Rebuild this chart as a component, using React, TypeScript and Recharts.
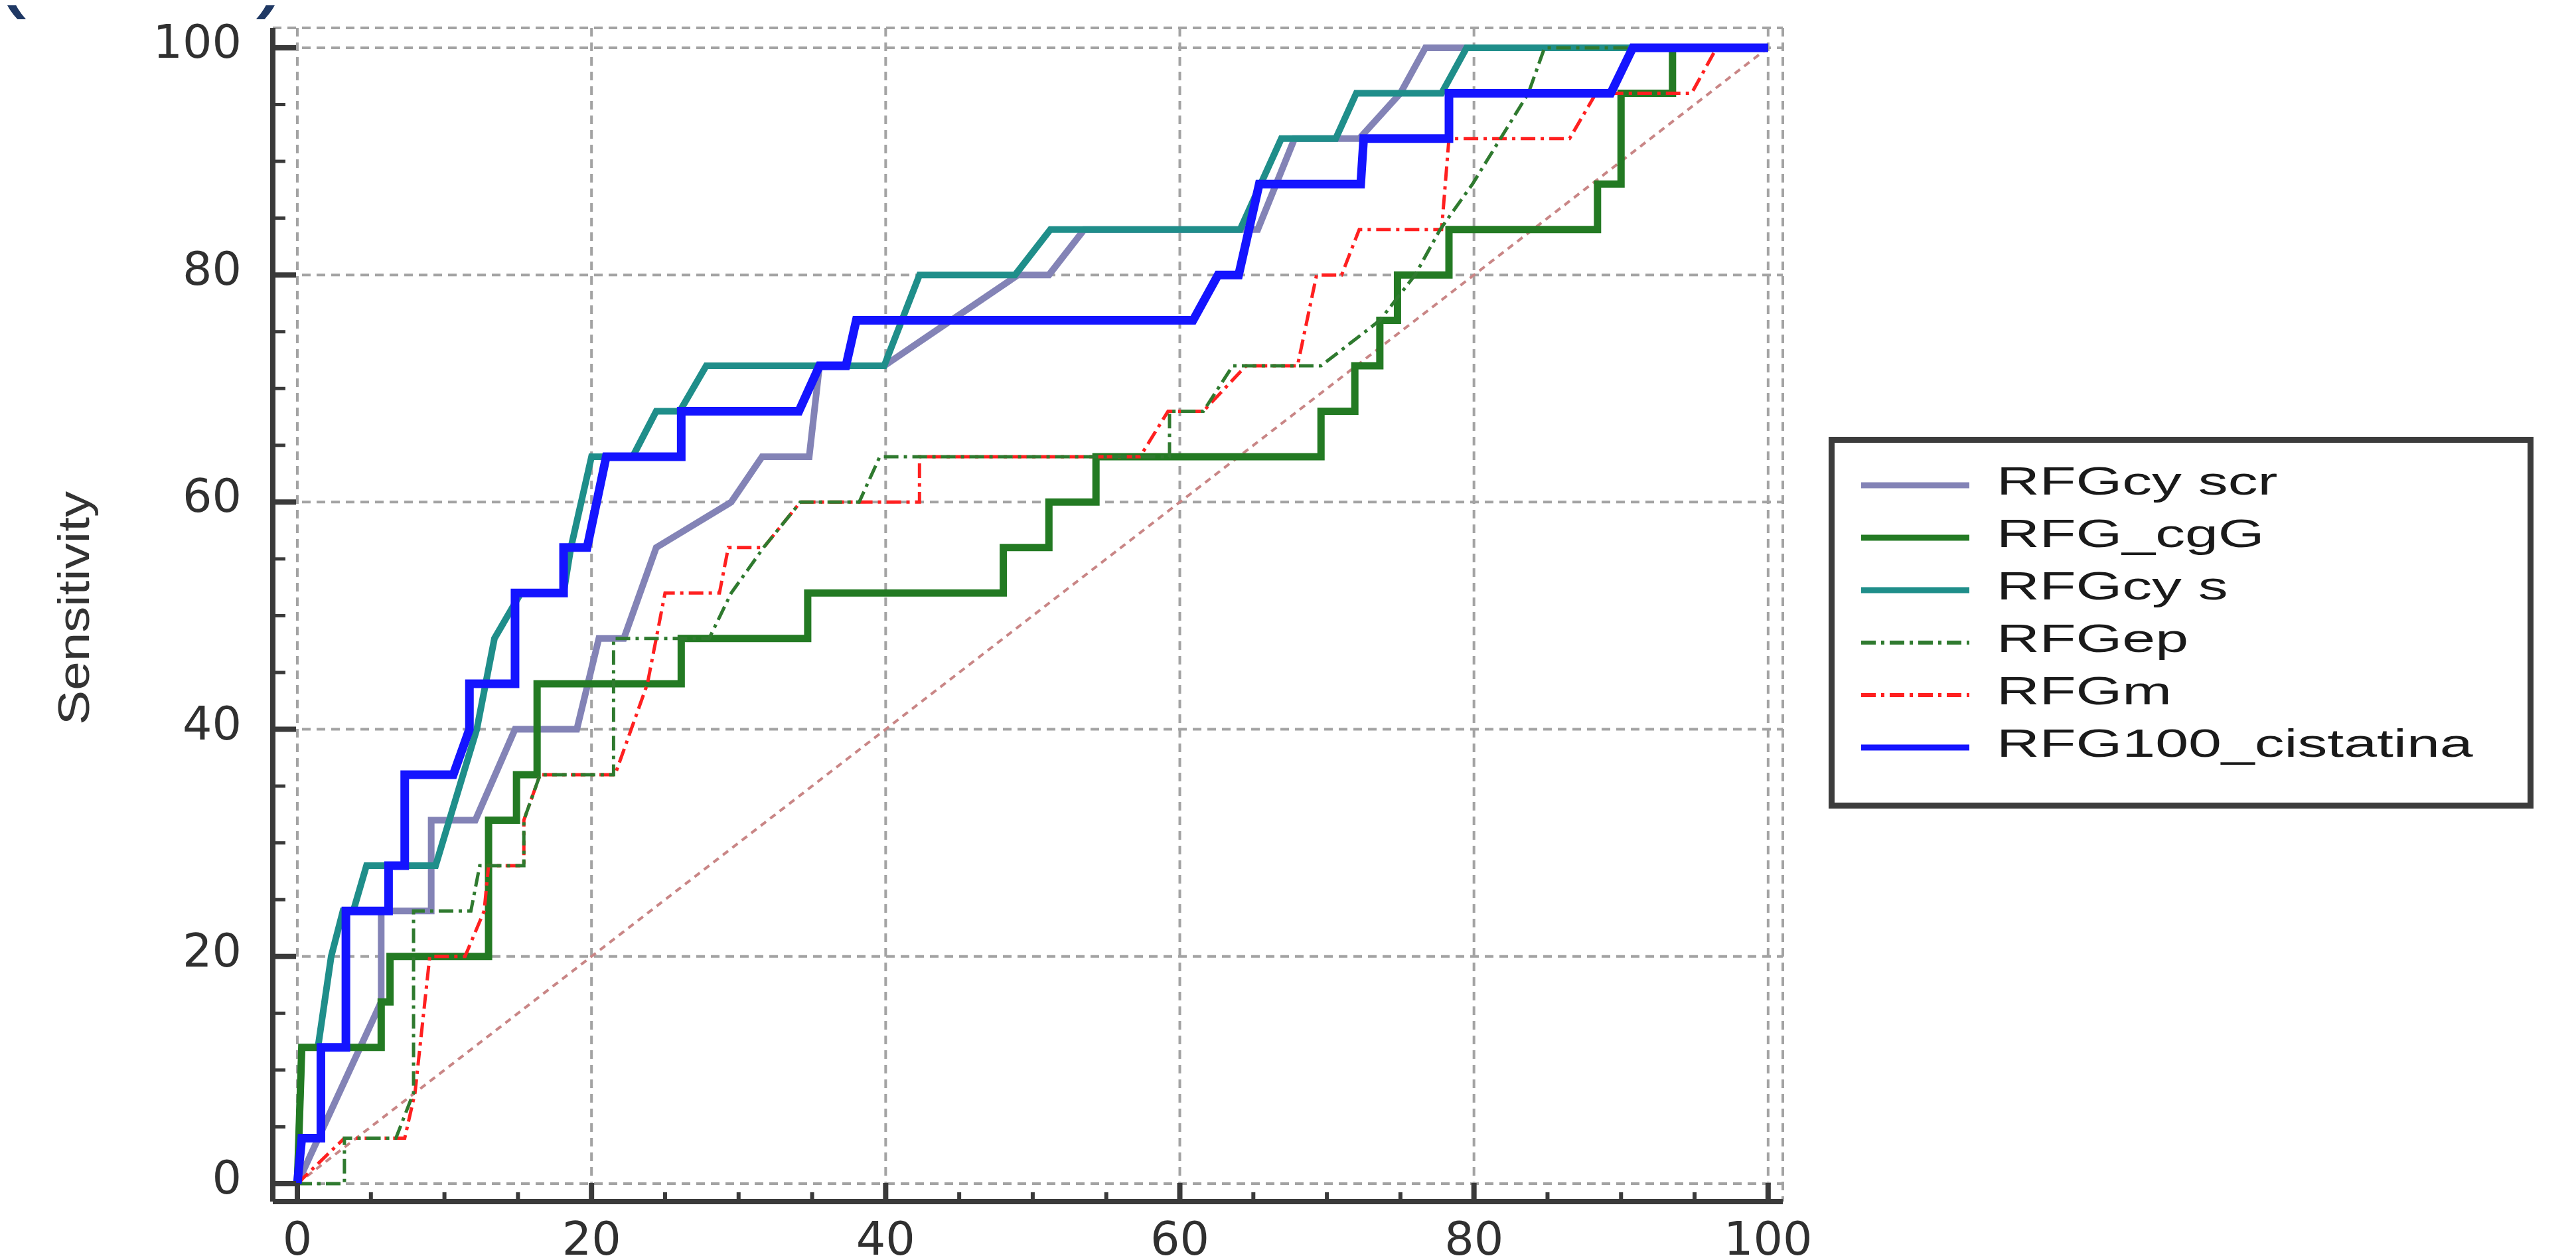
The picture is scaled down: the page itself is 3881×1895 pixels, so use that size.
import { LineChart, Line, XAxis, YAxis, CartesianGrid, Legend } from "recharts";

// axis ticks
const gridTicks = [0, 20, 40, 60, 80, 100];
const axisTicks = [0, 5, 10, 15, 20, 25, 30, 35, 40, 45, 50, 55, 60, 65, 70, 75, 80, 85, 90, 95, 100];

// 100-Specificity (x) and Sensitivity (y) for each ROC curve
const cyscrFpr = [0, 5.7, 5.7, 9.1, 9.1, 12.1, 14.8, 19, 20.5, 22.2, 24.4, 29.5, 31.6, 34.8, 35.5, 39.9, 49, 51.1, 53.5, 65.3, 67.8, 72.2, 75, 76.7, 100];
const cyscrSens = [0, 16, 24, 24, 32, 32, 40, 40, 48, 48, 56, 60, 64, 64, 72, 72, 80, 80, 84, 84, 92, 92, 96, 100, 100];

const cggFpr = [0, 0.3, 5.7, 5.7, 6.3, 6.3, 13, 13, 14.9, 14.9, 16.3, 16.3, 26.1, 26.1, 34.7, 34.7, 48, 48, 51.1, 51.1, 54.3, 54.3, 69.6, 69.6, 71.9, 71.9, 73.6, 73.6, 74.8, 74.8, 78.3, 78.3, 88.4, 88.4, 90, 90, 93.5, 93.5, 100];
const cggSens = [0, 12, 12, 16, 16, 20, 20, 32, 32, 36, 36, 44, 44, 48, 48, 52, 52, 56, 56, 60, 60, 64, 64, 68, 68, 72, 72, 76, 76, 80, 80, 84, 84, 88, 88, 96, 96, 100, 100];

const cysFpr = [0, 0.3, 1.4, 2.3, 3.1, 3.8, 4.7, 9.4, 12.2, 13.4, 15.2, 18.1, 18.6, 20, 22.8, 24.4, 26, 27.8, 39.9, 42.3, 48.8, 51.2, 64.1, 66.9, 70.6, 72, 77.8, 79.5, 100];
const cysSens = [0, 12, 12, 20, 24, 24, 28, 28, 40, 48, 52, 52, 56, 64, 64, 68, 68, 72, 72, 80, 80, 84, 84, 92, 92, 96, 96, 100, 100];

const epFpr = [0, 3.2, 3.2, 6.7, 7.9, 7.9, 11.8, 12.4, 15.4, 15.4, 16.5, 21.5, 21.5, 28, 29.5, 31.7, 34.2, 38.2, 39.6, 59.3, 59.3, 61.6, 63.6, 69.6, 73.6, 76, 77.7, 79.9, 83.7, 84.8, 100];
const epSens = [0, 0, 4, 4, 8, 24, 24, 28, 28, 32, 36, 36, 48, 48, 52, 56, 60, 60, 64, 64, 68, 68, 72, 72, 76, 80, 84, 88, 96, 100, 100];

const mFpr = [0, 3.2, 7.3, 8, 9, 11.4, 12.7, 13, 15.4, 15.4, 16.5, 21.6, 23.8, 25, 28.7, 29.3, 31.7, 34.2, 42.3, 42.3, 57.3, 59.2, 61.6, 64.5, 68, 69.3, 71, 72.2, 77.8, 78.3, 86.5, 88.3, 94.8, 96.5, 100];
const mSens = [0, 4, 4, 8, 20, 20, 24, 28, 28, 32, 36, 36, 44, 52, 52, 56, 56, 60, 60, 64, 64, 68, 68, 72, 72, 80, 80, 84, 84, 92, 92, 96, 96, 100, 100];

const cistFpr = [0, 0.3, 1.6, 1.6, 3.3, 3.3, 6.2, 6.2, 7.3, 7.3, 10.6, 11.7, 11.7, 14.8, 14.8, 18.1, 18.1, 19.7, 21, 26.1, 26.1, 34.1, 35.5, 37.3, 38, 60.9, 62.6, 64, 65.4, 72.3, 72.5, 78.3, 78.3, 89.3, 90.8, 100];
const cistSens = [0, 4, 4, 12, 12, 24, 24, 28, 28, 36, 36, 40, 44, 44, 52, 52, 56, 56, 64, 64, 68, 68, 72, 72, 76, 76, 80, 80, 88, 88, 92, 92, 96, 96, 100, 100];

const diagFpr = [0, 100];
const diagSens = [0, 100];

const toPoints = (fpr: number[], sens: number[]) => fpr.map((x, i) => ({ x, y: sens[i] }));

const cyscr = { name: "RFGcy scr", data: toPoints(cyscrFpr, cyscrSens), color: "#8383b6", width: 10, dash: undefined };
const cgg = { name: "RFG_cgG", data: toPoints(cggFpr, cggSens), color: "#237a23", width: 11, dash: undefined };
const cys = { name: "RFGcy s", data: toPoints(cysFpr, cysSens), color: "#1f8e8a", width: 10, dash: undefined };
const ep = { name: "RFGep", data: toPoints(epFpr, epSens), color: "#2f7a2f", width: 5, dash: "22 8 5 8" };
const m = { name: "RFGm", data: toPoints(mFpr, mSens), color: "#ff2020", width: 5, dash: "22 8 5 8" };
const cist = { name: "RFG100_cistatina", data: toPoints(cistFpr, cistSens), color: "#1414ff", width: 13, dash: undefined };

const legendOrder = [cyscr, cgg, cys, ep, m, cist];
const drawOrder = [cyscr, cys, cgg, m, ep, cist];

const AXIS = "#3a3a3a";
const XDOMAIN = [-1.67, 101];
const YDOMAIN = [-1.58, 101.75];

const XTick = (props: any) => {
  const { x, y, payload } = props;
  const major = payload.value % 20 === 0;
  return (
    <g>
      <line x1={x} x2={x} y1={y} y2={y - (major ? 28 : 14)} stroke={AXIS} strokeWidth={major ? 8 : 6} />
      {major && (
        <text x={x} y={y + 80} textAnchor="middle" fontSize={70} fontFamily="DejaVu Sans" fill="#303030">
          {payload.value}
        </text>
      )}
    </g>
  );
};

const YTick = (props: any) => {
  const { x, y, payload } = props;
  const major = payload.value % 20 === 0;
  return (
    <g>
      <line x1={x} x2={x + (major ? 35 : 19)} y1={y} y2={y} stroke={AXIS} strokeWidth={major ? 8 : 5} />
      {major && (
        <text x={x - 47} y={y + 15} textAnchor="end" fontSize={70} fontFamily="DejaVu Sans" fill="#303030">
          {payload.value}
        </text>
      )}
    </g>
  );
};

const SensLabel = (props: any) => {
  const vb = props.viewBox || { x: 0, y: 34, width: 403, height: 1768 };
  const cx = vb.x + 103;
  const cy = vb.y + vb.height / 2 - 10;
  return (
    <text
      x={cx}
      y={cy}
      transform={`rotate(-90, ${cx}, ${cy})`}
      textAnchor="middle"
      dominantBaseline="central"
      fontSize={66}
      textLength={352}
      lengthAdjust="spacingAndGlyphs"
      fontFamily="Liberation Sans"
      fill="#333"
    >
      Sensitivity
    </text>
  );
};

const renderLegend = () => (
  <svg width={1062} height={560}>
    <rect x={4.5} y={4.5} width={1053} height={551} fill="#fff" stroke="#3c3c3c" strokeWidth={9} />
    {legendOrder.map((s, i) => {
      const y = 73 + i * 79;
      return (
        <g key={s.name}>
          <line x1={49} x2={212} y1={y} y2={y} stroke={s.color} strokeWidth={s.dash ? 6 : 9} strokeDasharray={s.dash} />
          <text
            transform={`translate(253, ${y + 14}) scale(1.52, 1)`}
            fontSize={59}
            fontFamily="Liberation Sans"
            fill="#1a1a1a"
          >
            {s.name}
          </text>
        </g>
      );
    })}
  </svg>
);

export default function App() {
  return (
    <div style={{ position: "relative", width: 3865, height: 1887, background: "#fff" }}>
      <span style={{ position: "absolute", left: -18, top: -137, fontSize: 150, lineHeight: "150px", color: "#1f3864", fontFamily: "Liberation Sans" }}>(</span>
      <span style={{ position: "absolute", left: 377, top: -137, fontSize: 150, lineHeight: "150px", color: "#1f3864", fontFamily: "Liberation Sans" }}>)</span>
      <LineChart width={3865} height={1887} margin={{ top: 34, right: 1187, bottom: 5, left: 0 }}>
        <XAxis xAxisId="g" type="number" dataKey="x" domain={XDOMAIN} allowDataOverflow ticks={gridTicks} hide />
        <YAxis yAxisId="g" type="number" dataKey="y" domain={YDOMAIN} allowDataOverflow ticks={gridTicks} hide />
        <CartesianGrid xAxisId="g" yAxisId="g" stroke="#a3a3a3" strokeWidth={4} strokeDasharray="13 9" />
        <XAxis
          type="number"
          dataKey="x"
          domain={XDOMAIN}
          allowDataOverflow
          ticks={axisTicks}
          interval={0}
          tick={<XTick />}
          tickSize={0}
          tickMargin={0}
          tickLine={false}
          axisLine={{ stroke: AXIS, strokeWidth: 8 }}
          height={80}
        />
        <YAxis
          type="number"
          dataKey="y"
          domain={YDOMAIN}
          allowDataOverflow
          ticks={axisTicks}
          interval={0}
          tick={<YTick />}
          tickSize={0}
          tickMargin={0}
          tickLine={false}
          axisLine={{ stroke: AXIS, strokeWidth: 8 }}
          width={403}
          label={<SensLabel />}
        />
        <Line
          data={toPoints(diagFpr, diagSens)}
          dataKey="y"
          name="diag"
          stroke="#c98686"
          strokeWidth={4}
          strokeDasharray="10 8"
          dot={false}
          legendType="none"
          isAnimationActive={false}
        />
        {drawOrder.map((s) => (
          <Line
            key={s.name}
            data={s.data}
            dataKey="y"
            name={s.name}
            stroke={s.color}
            strokeWidth={s.width}
            strokeDasharray={s.dash}
            dot={false}
            activeDot={false}
            isAnimationActive={false}
          />
        ))}
        <Legend
          content={renderLegend}
          layout="horizontal"
          align="center"
          verticalAlign="middle"
          wrapperStyle={{ position: "absolute", left: 2747, top: 650, width: 1062, height: 560 }}
        />
      </LineChart>
    </div>
  );
}
